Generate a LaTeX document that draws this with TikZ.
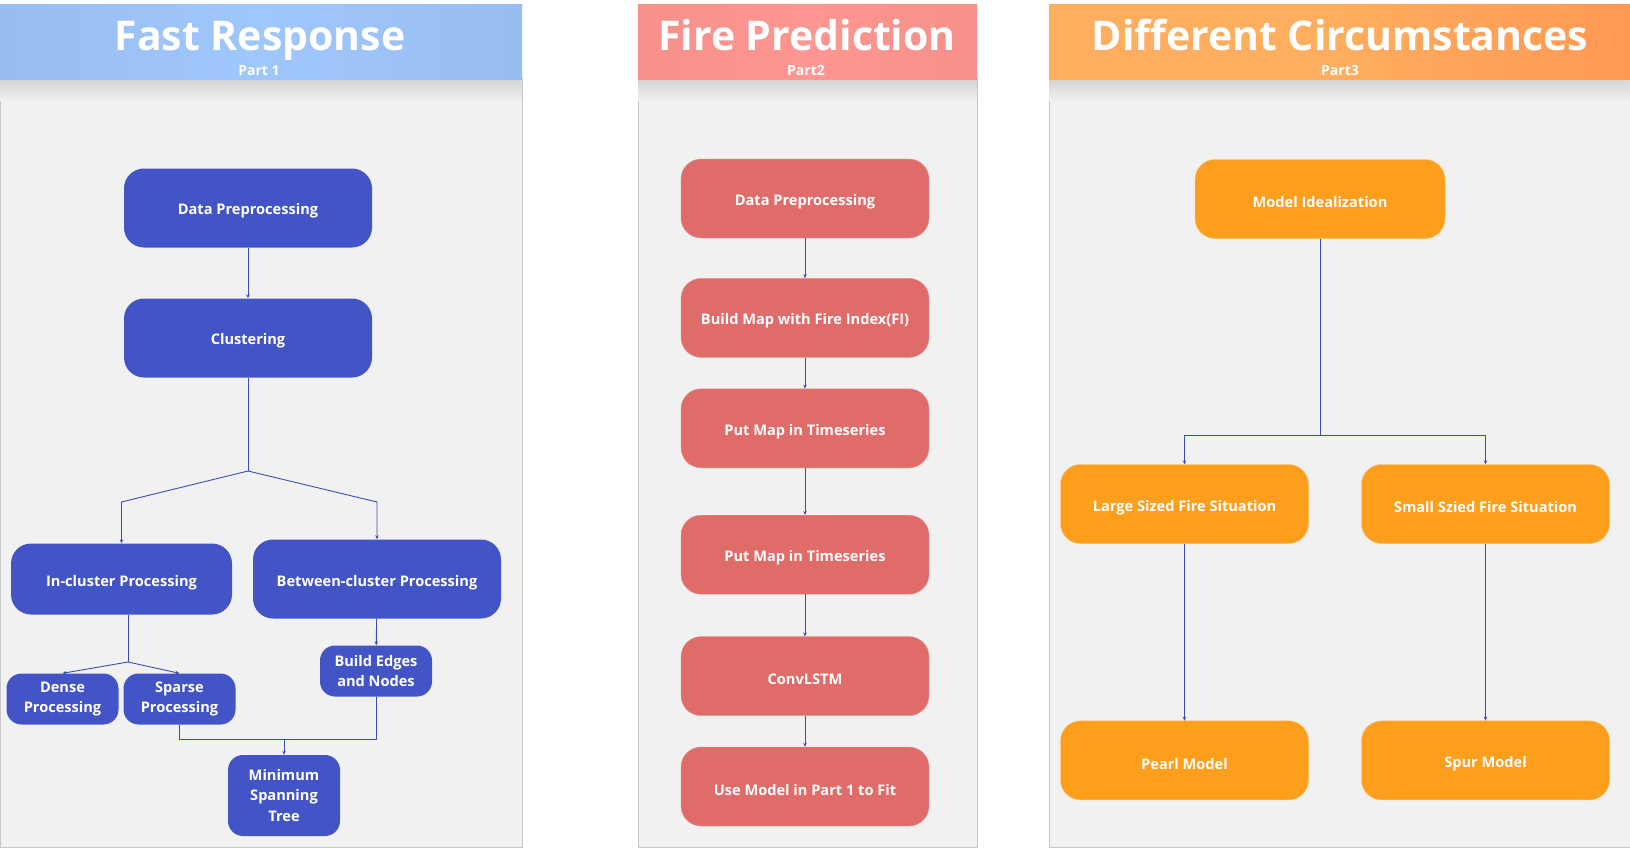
\documentclass[tikz,border=0pt]{standalone}
\usepackage{fontspec}
\setmainfont{Open Sans}
\usetikzlibrary{arrows.meta, positioning}

\definecolor{fastblue}{HTML}{4355C6}
\definecolor{firered}{HTML}{E06C6A}
\definecolor{circorange}{HTML}{FD9E1C}
\definecolor{linkblue}{HTML}{3A4DBA}
\definecolor{headblue}{HTML}{A0C7FC}
\definecolor{headred}{HTML}{FF9691}
\definecolor{headorange}{HTML}{FFAD5F}
\definecolor{panelgray}{HTML}{F1F1F1}

\begin{document}
\begin{tikzpicture}[
        x=1pt, y=-1pt,
        panel/.style={
            fill=panelgray,
            draw=black!22,
            line width=1pt
        },
        title/.style={
            text=white,
            inner sep=0pt,
            anchor=base,
            font=\fontsize{41}{44}\selectfont\bfseries
        },
        partlabel/.style={
            text=white,
            inner sep=0pt,
            anchor=base,
            font=\fontsize{14}{16}\selectfont\bfseries
        },
        bigbox/.style={
            rectangle,
            rounded corners=20pt,
            minimum width=248pt,
            minimum height=79pt,
            inner sep=2pt,
            text=white,
            align=center,
            execute at begin node={\rule{0pt}{17.5pt}},
            font=\fontsize{14.6}{20.5}\selectfont\bfseries
        },
        smallbox/.style={
            bigbox,
            rounded corners=15pt,
            minimum width=112pt,
            minimum height=51pt
        },
        fast/.style={fill=fastblue},
        fire/.style={fill=firered, draw=firered!75!white},
        circ/.style={fill=circorange, draw=circorange!65!white},
        link/.style={
            draw=linkblue,
            line width=0.9pt
        },
        arrow/.style={
            link,
            -{Stealth[length=4pt, width=3.5pt]}
        }
    ]
        \useasboundingbox (0,0) rectangle (1630,848);
        \fill[white] (0,0) rectangle (1630,848);

        % panels
        \draw[panel] (0,80) rectangle (522,847);
        \draw[panel] (638,80) rectangle (977,847);
        \draw[panel] (1049,80) rectangle (1630,847);
        \foreach \l/\r in {0/522, 638/977, 1049/1630} {
            \shade[top color=black!16, bottom color=panelgray] (\l+0.5,80.5) rectangle (\r-0.5,102);
        }
        \shade[left color=headblue!95!black, right color=headblue!95!black, middle color=headblue] (0,5) rectangle (522,80);
        \shade[left color=headred!96!black, right color=headred!96!black, middle color=headred] (638,5) rectangle (977,80);
        \shade[left color=headorange, right color=headorange!88!red, middle color=headorange] (1049,5) rectangle (1630,80);

        \node (fasttitle) [title] at (260,51) {Fast Response};
        \node (fastpart) [partlabel] at (259,76) {Part 1};
        \node (firetitle) [title] at (807,51) {Fire Prediction};
        \node (firepart) [partlabel] at (806,76) {Part2};
        \node (circtitle) [title] at (1340,51) {Different Circumstances};
        \node (circpart) [partlabel] at (1340,76) {Part3};

        % part 1
        \node (dp1) [bigbox, fast] at (248,208) {Data Preprocessing};
        \node (clu) [bigbox, fast] at (248,338) {Clustering};
        \node (inc) [bigbox, fast, minimum width=221pt, minimum height=71pt] at (121.5,579) {In-cluster Processing};
        \node (btw) [bigbox, fast] at (377,579) {Between-cluster Processing};
        \node (dense) [smallbox, fast] at (62.5,699) {Dense\\Processing};
        \node (sparse) [smallbox, fast] at (179.5,699) {Sparse\\Processing};
        \node (bld) [smallbox, fast] at (376,671) {Build Edges\\and Nodes};
        \node (mst) [smallbox, fast, minimum height=81pt] at (284,795.5) {Minimum\\Spanning\\Tree};

        \coordinate (split) at (248,471);
        \coordinate (incjoint) at (121.5,502);
        \coordinate (btwjoint) at (377,502);
        \coordinate (incsplit) at (128,662);
        \coordinate (mstjoint) at (284,739);

        \draw [arrow] (dp1) -- (clu);
        \draw [link] (clu) -- (split);
        \draw [arrow] (split) -- (incjoint) -- (inc);
        \draw [arrow] (split) -- (btwjoint) -- (btw);
        \draw [link] (inc.south -| incsplit) -- (incsplit);
        \draw [arrow] (incsplit) -- (dense.north);
        \draw [arrow] (incsplit) -- (sparse.north);
        \draw [arrow] (btw) -- (bld);
        \draw [link] (sparse.south) |- (mstjoint);
        \draw [link] (bld.south) |- (mstjoint);
        \draw [arrow] (mstjoint) -- (mst);

        % part 2
        \node (dp2) [bigbox, fire] at (805,198.5) {Data Preprocessing};
        \node (map) [bigbox, fire, below=40pt of dp2] {Build Map with Fire Index(FI)};
        \node (tsa) [bigbox, fire, below=31pt of map] {Put Map in Timeseries};
        \node (tsb) [bigbox, fire, below=47pt of tsa] {Put Map in Timeseries};
        \node (conv) [bigbox, fire, below=42pt of tsb] {ConvLSTM};
        \node (use) [bigbox, fire, below=31pt of conv] {Use Model in Part 1 to Fit};

        \foreach \a/\b in {dp2/map, map/tsa, tsa/tsb, tsb/conv, conv/use}
            \draw [arrow] (\a) -- (\b);

        % part 3
        \node (mi) [bigbox, circ, minimum width=250pt] at (1320,199) {Model Idealization};
        \node (large) [bigbox, circ] at (1184.5,504) {Large Sized Fire Situation};
        \node (small) [bigbox, circ] at (1485.5,504) {Small Szied Fire Situation};
        \node (pearl) [bigbox, circ, below=177pt of large] {Pearl Model};
        \node (spur) [bigbox, circ, below=177pt of small] {Spur Model};

        \coordinate (mijoint) at (1320,435);
        \draw [link] (mi) -- (mijoint);
        \draw [arrow] (mijoint) -| (large);
        \draw [arrow] (mijoint) -| (small);
        \draw [arrow] (large) -- (pearl);
        \draw [arrow] (small) -- (spur);

    \end{tikzpicture}
\end{document}
